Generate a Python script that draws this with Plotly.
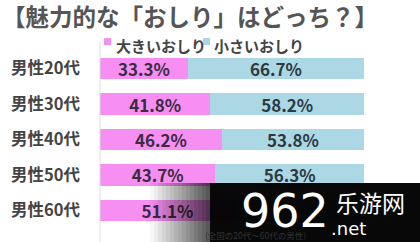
import plotly.graph_objects as go

categories = ["男性20代", "男性30代", "男性40代", "男性50代", "男性60代"]
big = [33.3, 41.8, 46.2, 43.7, 51.1]
small = [66.7, 58.2, 53.8, 56.3, 48.9]
series_names = ["大きいおしり", "小さいおしり"]
colors = ["#f68ff1", "#acd8e5"]
title_text = "【魅力的な「おしり」はどっち？】"
note_text = "(全国の20代～60代の男性)"

W, H = 420, 242
L, R, T, B = 100, 56, 51, 14
pw, ph = W - L - R, H - T - B

def px(x):
    return (x - L) / pw

def py(y):
    return 1 - (y - T) / ph

JP = "Noto Sans CJK JP"
fig = go.Figure()
fig.add_trace(go.Bar(y=categories, x=big, orientation="h", name=series_names[0],
                     marker=dict(color=colors[0], line=dict(width=0)),
                     text=[f"{v:.1f}%" for v in big], textposition="inside",
                     insidetextanchor="middle", constraintext="none",
                     textfont=dict(family=JP, size=17, color="#3a2c44", weight="bold")))
fig.add_trace(go.Bar(y=categories, x=small, orientation="h", name=series_names[1],
                     marker=dict(color=colors[1], line=dict(width=0)),
                     text=[f"{v:.1f}%" if i < 4 else "" for i, v in enumerate(small)],
                     textposition="inside", insidetextanchor="middle", constraintext="none",
                     textfont=dict(family=JP, size=17, color="#2b3a42", weight="bold")))

fig.update_layout(
    width=W, height=H, margin=dict(l=L, r=R, t=T, b=B),
    barmode="stack", bargap=0.4,
    paper_bgcolor="white", plot_bgcolor="white",
    showlegend=False,
    xaxis=dict(range=[0, 100], visible=False, fixedrange=True),
    yaxis=dict(autorange="reversed", showgrid=False, showline=False, ticks="",
               tickfont=dict(family=JP, size=16.5, color="#444", weight="bold"),
               ticklabelstandoff=19),
)

# manual legend
leg = [(104, 114, series_names[0], colors[0]), (203, 212, series_names[1], colors[1])]
for sx, tx, name, col in leg:
    fig.add_shape(type="rect", xref="paper", yref="paper", x0=px(sx), x1=px(sx + 7),
                  y0=py(45), y1=py(38), line=dict(width=0), fillcolor=col)
    fig.add_annotation(text=name, xref="paper", yref="paper", x=px(tx), y=py(46),
                       xanchor="left", yanchor="middle", showarrow=False,
                       font=dict(family=JP, size=15, color="#444", weight="bold"))

# title
fig.add_annotation(text=title_text, xref="paper", yref="paper", x=px(0), y=py(16),
                   xanchor="left", yanchor="middle", showarrow=False,
                   font=dict(family=JP, size=23.5, color="#555", weight="bold"))
# vertical axis line
fig.add_shape(type="line", xref="paper", yref="paper", x0=px(100), x1=px(100),
              y0=py(42), y1=py(242), line=dict(color="#dddddd", width=1))
# footnote
fig.add_annotation(text=note_text, xref="paper", yref="paper", x=px(203), y=py(234.5),
                   xanchor="left", yanchor="middle", showarrow=False,
                   font=dict(family=JP, size=8.5, color="#333"))
# watermark gradient + box
steps = 15
for i in range(steps):
    x0 = 150 + i * 4
    fig.add_shape(type="rect", xref="paper", yref="paper", x0=px(x0), x1=px(x0 + 4),
                  y0=py(242), y1=py(183), line=dict(width=0),
                  fillcolor=f"rgba(0,0,0,{0.03 + 0.045 * i:.2f})")
fig.add_shape(type="rect", xref="paper", yref="paper", x0=px(210), x1=px(420),
              y0=py(242), y1=py(183), line=dict(width=0), fillcolor="rgba(0,0,0,0.97)")
fig.add_annotation(text="962", xref="paper", yref="paper", x=px(285), y=py(211),
                   xanchor="center", yanchor="middle", showarrow=False,
                   font=dict(family="DejaVu Sans", size=46, color="white"))
fig.add_annotation(text="乐游网", xref="paper", yref="paper", x=px(370), y=py(202),
                   xanchor="center", yanchor="middle", showarrow=False,
                   font=dict(family="Noto Sans CJK SC", size=23, color="white"))
fig.add_annotation(text=".net", xref="paper", yref="paper", x=px(329), y=py(228),
                   xanchor="left", yanchor="middle", showarrow=False,
                   font=dict(family="DejaVu Sans", size=18, color="white"))

fig.write_html("out.html")
